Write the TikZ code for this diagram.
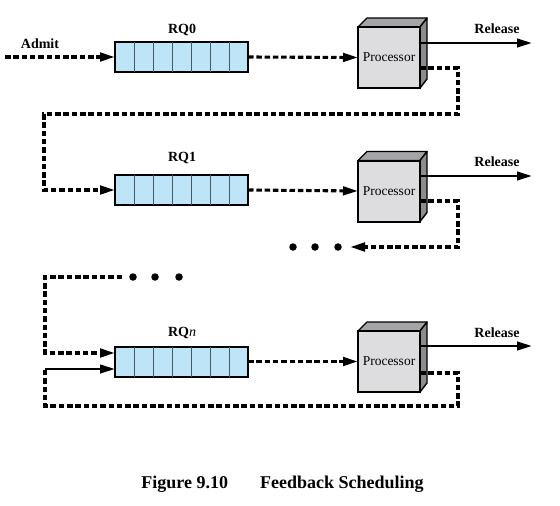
\documentclass[tikz,border=0pt]{standalone}
\usepackage{fontspec}
\setmainfont{Liberation Serif}
\usetikzlibrary{arrows.meta,calc}
\definecolor{qblue}{RGB}{190,228,247}
\definecolor{pfront}{RGB}{221,221,223}
\definecolor{pside}{RGB}{140,140,142}
\definecolor{ptop}{RGB}{165,165,167}
\definecolor{cellc}{RGB}{70,90,100}
\begin{document}
\begin{tikzpicture}[x=1pt,y=-1pt,
 queuebox/.style={draw, line width=2pt, fill=qblue, minimum width=133pt, minimum height=30pt, inner sep=0pt, outer sep=0pt},
 procbox/.style={draw, line width=2pt, fill=pfront, minimum width=62pt, minimum height=61pt, inner sep=0pt, outer sep=0pt, font=\fontsize{13.5}{15}\selectfont},
 face/.style={draw, line width=1.4pt, line join=round},
 lbl/.style={font=\fontsize{14}{16}\selectfont\bfseries, inner sep=0pt},
 dline/.style={line width=3.1pt, dash pattern=on 5.5pt off 2.8pt},
 sline/.style={line width=2.6pt},
 tip/.style={-{Triangle[length=15pt,width=8.5pt]}},
 cell/.style={line width=0.9pt, draw=cellc},
 dotc/.style={circle, fill=black, minimum size=7.5pt, inner sep=0pt}
]
\useasboundingbox (0,0) rectangle (560,506);

% queues
\node[queuebox] (q0) at (181.5,57) {};
\node[queuebox] (q1) at (181.5,190) {};
\node[queuebox] (q2) at (181.5,361.5) {};
\foreach \q in {q0,q1,q2}{
  \foreach \i in {1,...,6}{
    \draw[cell] ($(\q.south west)+(\i*19,0)$) -- ($(\q.north west)+(\i*19,0)$);
  }
}
\node[lbl] (l0) at (182,30) {RQ0};
\node[lbl] (l1) at (182,158) {RQ1};
\node[lbl] (l2) at (182,333) {RQ\textnormal{\textit{n}}};

% processors
\node[procbox] (p0) at (389,57.5) {Processor};
\node[procbox] (p1) at (389,191) {Processor};
\node[procbox] (p2) at (389,361.5) {Processor};
\foreach \p in {p0,p1,p2}{
  \draw[face, fill=ptop] (\p.north west) -- ($(\p.north west)+(9,-9)$) -- ($(\p.north east)+(7,-9)$) -- (\p.north east) -- cycle;
  \draw[face, fill=pside] (\p.north east) -- ($(\p.north east)+(7,-9)$) -- ($(\p.south east)+(7,-9)$) -- (\p.south east) -- cycle;
  \draw[line width=2pt] (\p.north west) rectangle (\p.south east);
}

% admit
\node[lbl] (admit) at (40,44) {Admit};
\coordinate (a0) at (5,57);
\draw[dline,tip] (a0) -- (q0.west);

% queue to processor
\draw[dline,tip] (q0.east) -- (p0.west);
\draw[dline,tip] (q1.east) -- (p1.west);
\draw[dline,tip] (q2.east) -- (p2.west);

% release
\coordinate (r0) at (532,43);
\coordinate (r1) at (532,176);
\coordinate (r2) at (532,346);
\draw[sline,tip] (p0.east |- r0) -- (r0);
\draw[sline,tip] (p1.east |- r1) -- (r1);
\draw[sline,tip] (p2.east |- r2) -- (r2);
\node[lbl] (rl0) at (497,29) {Release};
\node[lbl] (rl1) at (497,162) {Release};
\node[lbl] (rl2) at (497,333) {Release};

% feedback row 0 -> row 1
\coordinate (f0a) at (458,68);
\coordinate (f0b) at (458,114);
\coordinate (f0c) at (44,114);
\draw[dline,tip] (p0.east |- f0a) -- (f0a) -- (f0b) -- (f0c) |- (q1.west);

% feedback row 1 -> dots
\coordinate (f1a) at (458,201);
\coordinate (f1b) at (458,247);
\node[dotc] (d1) at (293,247) {};
\node[dotc] (d2) at (315,247) {};
\node[dotc] (d3) at (338,247) {};
\coordinate (f1c) at (350,247);
\draw[dline,tip] (p1.east |- f1a) -- (f1a) -- (f1b) -- (f1c);

% dots -> RQn
\node[dotc] (d4) at (133,277) {};
\node[dotc] (d5) at (155,277) {};
\node[dotc] (d6) at (179,277) {};
\coordinate (g0) at (122,277);
\coordinate (g1) at (45,277);
\coordinate (g2) at (45,353);
\draw[dline,tip] (g0) -- (g1) -- (g2) -- (q2.west |- g2);

% feedback row n -> RQn
\coordinate (h0) at (458,373);
\coordinate (h1) at (458,406);
\coordinate (h2) at (45,406);
\coordinate (h3) at (45,369);
\draw[dline] (p2.east |- h0) -- (h0) -- (h1) -- (h2) -- (h3);
\draw[sline,tip] (h3) -- (q2.west |- h3);

% caption
\node[font=\fontsize{18}{20}\selectfont\bfseries, inner sep=0pt] (cap) at (282.5,484) {Figure 9.10\hspace{32pt}Feedback Scheduling};
\end{tikzpicture}
\end{document}
